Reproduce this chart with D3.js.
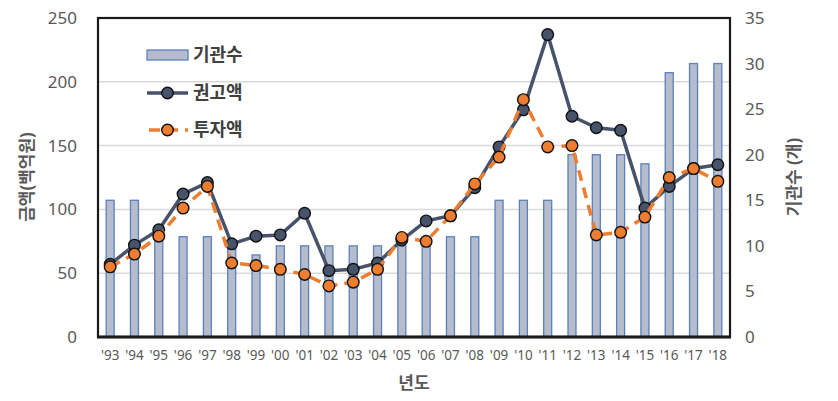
<!DOCTYPE html>
<html><head><meta charset="utf-8">
<script src="https://cdn.jsdelivr.net/npm/d3@7"></script>
<style>
body{margin:0;background:#fff;}
text{font-family:"Noto Sans","Noto Sans CJK KR",sans-serif;}
</style></head>
<body><svg id="c" width="838" height="401"></svg>
<script>
const years = ["'93","'94","'95","'96","'97","'98","'99","'00","'01","'02","'03","'04","'05","'06","'07","'08","'09","'10","'11","'12","'13","'14","'15","'16","'17","'18"];
const institutions = [15,15,11,11,11,10,9,10,10,10,10,10,10,10,11,11,15,15,15,20,20,20,19,29,30,30];
const recommended = [57,72,84,112,121,73,79,80,97,52,53,58,76,91,95,117,149,178,237,173,164,162,101,118,132,135];
const invested = [55,65,79,101,118,58,56,53,49,40,43,53,78,75,95,120,141,186,149,150,80,82,94,125,132,122];
const leftTicks = [0,50,100,150,200,250];
const rightTicks = [0,5,10,15,20,25,30,35];
const labels = {bars:"기관수", rec:"권고액", inv:"투자액", x:"년도", yl:"금액(백억원)", yr:"기관수 (개)"};

const W=838,H=401, L=98, R=730, T=18, B=337;
const svg = d3.select("#c");
const x = d3.scaleBand().domain(years).range([L,R]).padding(0);
const yL = d3.scaleLinear().domain([0,250]).range([B,T]);
const yR = d3.scaleLinear().domain([0,35]).range([B,T]);
const cx = d => x(d)+x.bandwidth()/2;

// gridlines
svg.append("g").selectAll("line").data(leftTicks.filter(t=>t>0 && t<250)).join("line")
  .attr("x1",L).attr("x2",R).attr("y1",d=>yL(d)).attr("y2",d=>yL(d))
  .attr("stroke","#d9d9d9").attr("stroke-width",1.5);

// bars
const bw = 8;
svg.append("g").selectAll("rect").data(years).join("rect")
  .attr("x",(d)=>cx(d)-bw/2).attr("width",bw)
  .attr("y",(d,i)=>yR(institutions[i])).attr("height",(d,i)=>B-yR(institutions[i]))
  .attr("fill","#b5bccb").attr("stroke","#5b80c0").attr("stroke-width",1.3);

// frame
svg.append("rect").attr("x",L).attr("y",T).attr("width",R-L).attr("height",B-T)
  .attr("fill","none").attr("stroke","#1a1a1a").attr("stroke-width",2.2);
svg.append("line").attr("x1",L-1).attr("x2",R+1).attr("y1",B).attr("y2",B).attr("stroke","#1a1a1a").attr("stroke-width",3);

// navy line
const navy="#46536b", orange="#ed7d31";
const line = arr => d3.line().x((d,i)=>cx(years[i])).y(d=>yL(d))(arr);
svg.append("path").attr("d",line(recommended)).attr("fill","none").attr("stroke",navy).attr("stroke-width",3.5).attr("stroke-linejoin","round");
svg.append("g").selectAll("circle").data(recommended).join("circle")
  .attr("cx",(d,i)=>cx(years[i])).attr("cy",d=>yL(d)).attr("r",5.8)
  .attr("fill",navy).attr("stroke","#111").attr("stroke-width",1.4);
svg.append("path").attr("d",line(invested)).attr("fill","none").attr("stroke",orange).attr("stroke-width",3.5).attr("stroke-dasharray","11,7");
svg.append("g").selectAll("circle").data(invested).join("circle")
  .attr("cx",(d,i)=>cx(years[i])).attr("cy",d=>yL(d)).attr("r",5.8)
  .attr("fill",orange).attr("stroke","#111").attr("stroke-width",1.4);

// axes labels
const tc="#595959";
const axL = svg.append("g").attr("transform",`translate(${L},0)`).call(d3.axisLeft(yL).tickValues(leftTicks).tickSize(0).tickPadding(21));
axL.select(".domain").remove();
axL.selectAll("text").attr("fill",tc).style("font-size","17px");
const axR = svg.append("g").attr("transform",`translate(${R},0)`).call(d3.axisRight(yR).tickValues(rightTicks).tickSize(0).tickPadding(15));
axR.select(".domain").remove();
axR.selectAll("text").attr("fill",tc).style("font-size","17px");
const axB = svg.append("g").attr("transform",`translate(0,${B})`).call(d3.axisBottom(x).tickSize(0).tickPadding(13));
axB.select(".domain").remove();
axB.selectAll("text").attr("fill",tc).style("font-size","13.5px");

svg.append("text").attr("x",(L+R)/2).attr("y",389).attr("text-anchor","middle")
  .attr("fill",tc).style("font-size","17px").style("font-weight","bold").text(labels.x);
svg.append("text").attr("transform","translate(33,177) rotate(-90)").attr("text-anchor","middle")
  .attr("fill",tc).style("font-size","17px").style("font-weight","bold").text(labels.yl);
svg.append("text").attr("transform","translate(800,177) rotate(-90)").attr("text-anchor","middle")
  .attr("fill",tc).style("font-size","17px").style("font-weight","bold").text(labels.yr);

// legend
const lg = svg.append("g");
const lx=147, lw=41, lys=[55,93,130];
lg.append("rect").attr("x",lx).attr("y",lys[0]-5).attr("width",lw).attr("height",10)
  .attr("fill","#b5bccb").attr("stroke","#5b80c0").attr("stroke-width",1.3);
lg.append("line").attr("x1",lx).attr("x2",lx+lw).attr("y1",lys[1]).attr("y2",lys[1]).attr("stroke",navy).attr("stroke-width",3.5);
lg.append("circle").attr("cx",lx+lw/2).attr("cy",lys[1]).attr("r",5.8).attr("fill",navy).attr("stroke","#111").attr("stroke-width",1.4);
lg.append("line").attr("x1",lx).attr("x2",lx+lw).attr("y1",lys[2]).attr("y2",lys[2]).attr("stroke",orange).attr("stroke-width",3.5).attr("stroke-dasharray","11,7").attr("stroke-dashoffset",-2);
lg.append("circle").attr("cx",lx+lw/2).attr("cy",lys[2]).attr("r",5.8).attr("fill",orange).attr("stroke","#111").attr("stroke-width",1.4);
[labels.bars,labels.rec,labels.inv].forEach((t,i)=>{
  lg.append("text").attr("x",193).attr("y",lys[i]).attr("dy","0.35em").attr("fill","#404040")
    .style("font-size","18px").style("font-weight","bold").text(t);
});
</script></body></html>
